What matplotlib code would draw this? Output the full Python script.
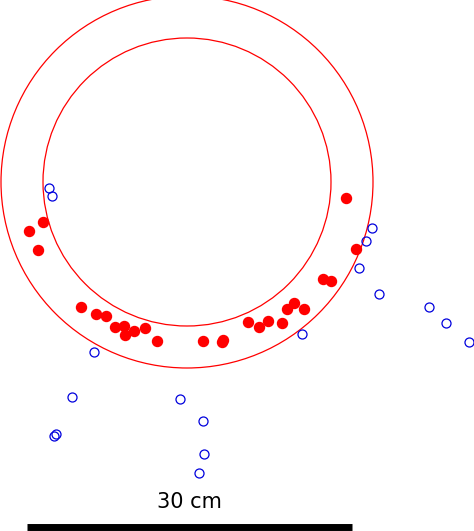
import numpy as np
import matplotlib.pyplot as plt
from matplotlib.patches import Circle

# positions in image pixel units (x right, y down)
red_x = [29, 43, 38, 346, 356, 323, 331, 304, 294, 287, 268, 259, 248, 282,
         81, 96, 106, 115, 124, 125, 134, 145, 157, 203, 222, 223]
red_y = [231, 222, 250, 198, 249, 279, 281, 309, 303, 309, 321, 327, 322, 323,
         307, 314, 316, 327, 326, 335, 331, 328, 341, 341, 342, 340]
blue_x = [49, 52, 372, 366, 359, 379, 429, 446, 469, 302, 94, 72, 180, 56, 54, 203, 204, 199]
blue_y = [188, 196, 228, 241, 268, 294, 307, 323, 342, 334, 352, 397, 399, 434, 436, 421, 454, 473]

ring_center = (187, 182)
ring_radii = [186, 144]
bar_x = [27, 352]
bar_y = 527
bar_label = "30 cm"

fig = plt.figure(figsize=(4.74, 5.31), dpi=100)
ax = fig.add_axes([0, 0, 1, 1])
ax.set_xlim(0, 474)
ax.set_ylim(531, 0)
ax.axis('off')

for r in ring_radii:
    ax.add_patch(Circle(ring_center, r, fill=False, ec='red', lw=0.9))

ax.plot(red_x, red_y, 'o', color='red', ms=7.2, mec='red')
ax.plot(blue_x, blue_y, 'o', mfc='none', mec='#0000dd', ms=6.5, mew=0.9)

ax.plot(bar_x, [bar_y, bar_y], color='black', lw=5, solid_capstyle='butt')
ax.text(sum(bar_x) / 2, 502, bar_label, ha='center', va='center', fontsize=15)

fig.savefig('out.png', dpi=100)
